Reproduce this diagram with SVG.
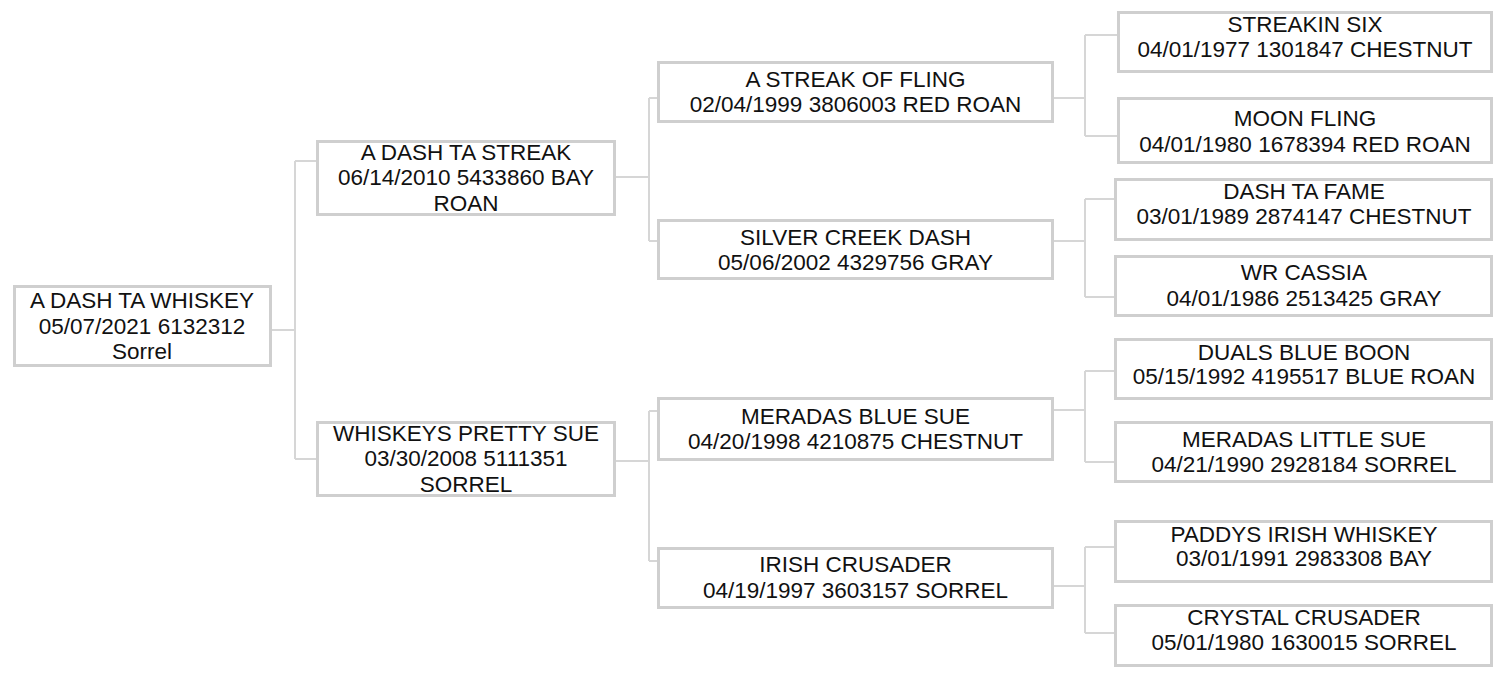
<svg xmlns="http://www.w3.org/2000/svg" width="1500" height="680" viewBox="0 0 1500 680">
<style>
.box{fill:#ffffff;stroke:#cfcfcf;stroke-width:3}
.t{font-family:"Liberation Sans",Arial,sans-serif;font-size:22.5px;fill:#111111;text-anchor:middle}
.c{fill:none;stroke:#d6d6d6;stroke-width:2}
</style>
<rect x="0" y="0" width="1500" height="680" fill="#ffffff"/>
<g id="connectors">
<path class="c" d="M272 330H295M295 161V459M295 161H316M295 459H316"/>
<path class="c" d="M616 177H649M649 98V241M649 98H657M649 241H657"/>
<path class="c" d="M616 461H649M649 411V561M649 411H657M649 561H657"/>
<path class="c" d="M1054 98H1085M1085 35V136M1085 35H1117M1085 136H1117"/>
<path class="c" d="M1054 241H1085M1085 199V297M1085 199H1114M1085 297H1114"/>
<path class="c" d="M1054 410H1085M1085 371V462M1085 371H1114M1085 462H1114"/>
<path class="c" d="M1054 586H1085M1085 547V633M1085 547H1114M1085 633H1114"/>
</g>
<g id="n-a-dash-ta-whiskey">
<rect class="box" x="14.5" y="286.5" width="256" height="79"/>
<text class="t" x="142" y="308">A DASH TA WHISKEY</text>
<text class="t" x="142" y="334">05/07/2021 6132312</text>
<text class="t" x="142" y="359">Sorrel</text>
</g>
<g id="n-a-dash-ta-streak">
<rect class="box" x="317.5" y="141.5" width="297" height="73"/>
<text class="t" x="466" y="160">A DASH TA STREAK</text>
<text class="t" x="466" y="185">06/14/2010 5433860 BAY</text>
<text class="t" x="466" y="211">ROAN</text>
</g>
<g id="n-whiskeys-pretty-sue">
<rect class="box" x="317.5" y="422.5" width="297" height="73"/>
<text class="t" x="466" y="441">WHISKEYS PRETTY SUE</text>
<text class="t" x="466" y="466">03/30/2008 5111351</text>
<text class="t" x="466" y="492">SORREL</text>
</g>
<g id="n-a-streak-of-fling">
<rect class="box" x="658.5" y="62.5" width="394" height="59"/>
<text class="t" x="855.5" y="87">A STREAK OF FLING</text>
<text class="t" x="855.5" y="112">02/04/1999 3806003 RED ROAN</text>
</g>
<g id="n-silver-creek-dash">
<rect class="box" x="658.5" y="220.5" width="394" height="58"/>
<text class="t" x="855.5" y="245">SILVER CREEK DASH</text>
<text class="t" x="855.5" y="270">05/06/2002 4329756 GRAY</text>
</g>
<g id="n-meradas-blue-sue">
<rect class="box" x="658.5" y="398.5" width="394" height="61"/>
<text class="t" x="855.5" y="424">MERADAS BLUE SUE</text>
<text class="t" x="855.5" y="449">04/20/1998 4210875 CHESTNUT</text>
</g>
<g id="n-irish-crusader">
<rect class="box" x="658.5" y="548.5" width="394" height="59"/>
<text class="t" x="855.5" y="572">IRISH CRUSADER</text>
<text class="t" x="855.5" y="598">04/19/1997 3603157 SORREL</text>
</g>
<g id="n-streakin-six">
<rect class="box" x="1118.5" y="12.5" width="373" height="59"/>
<text class="t" x="1305" y="32">STREAKIN SIX</text>
<text class="t" x="1305" y="57">04/01/1977 1301847 CHESTNUT</text>
</g>
<g id="n-moon-fling">
<rect class="box" x="1118.5" y="98.5" width="373" height="64"/>
<text class="t" x="1305" y="126">MOON FLING</text>
<text class="t" x="1305" y="152">04/01/1980 1678394 RED ROAN</text>
</g>
<g id="n-dash-ta-fame">
<rect class="box" x="1115.5" y="179.5" width="376" height="60"/>
<text class="t" x="1304" y="199">DASH TA FAME</text>
<text class="t" x="1304" y="224">03/01/1989 2874147 CHESTNUT</text>
</g>
<g id="n-wr-cassia">
<rect class="box" x="1115.5" y="256.5" width="376" height="59"/>
<text class="t" x="1304" y="280">WR CASSIA</text>
<text class="t" x="1304" y="306">04/01/1986 2513425 GRAY</text>
</g>
<g id="n-duals-blue-boon">
<rect class="box" x="1115.5" y="339.5" width="376" height="59"/>
<text class="t" x="1304" y="360">DUALS BLUE BOON</text>
<text class="t" x="1304" y="384">05/15/1992 4195517 BLUE ROAN</text>
</g>
<g id="n-meradas-little-sue">
<rect class="box" x="1115.5" y="422.5" width="376" height="59"/>
<text class="t" x="1304" y="447">MERADAS LITTLE SUE</text>
<text class="t" x="1304" y="472">04/21/1990 2928184 SORREL</text>
</g>
<g id="n-paddys-irish-whiskey">
<rect class="box" x="1115.5" y="521.5" width="376" height="60"/>
<text class="t" x="1304" y="542">PADDYS IRISH WHISKEY</text>
<text class="t" x="1304" y="566">03/01/1991 2983308 BAY</text>
</g>
<g id="n-crystal-crusader">
<rect class="box" x="1115.5" y="605.5" width="376" height="60"/>
<text class="t" x="1304" y="625">CRYSTAL CRUSADER</text>
<text class="t" x="1304" y="650">05/01/1980 1630015 SORREL</text>
</g>
</svg>
